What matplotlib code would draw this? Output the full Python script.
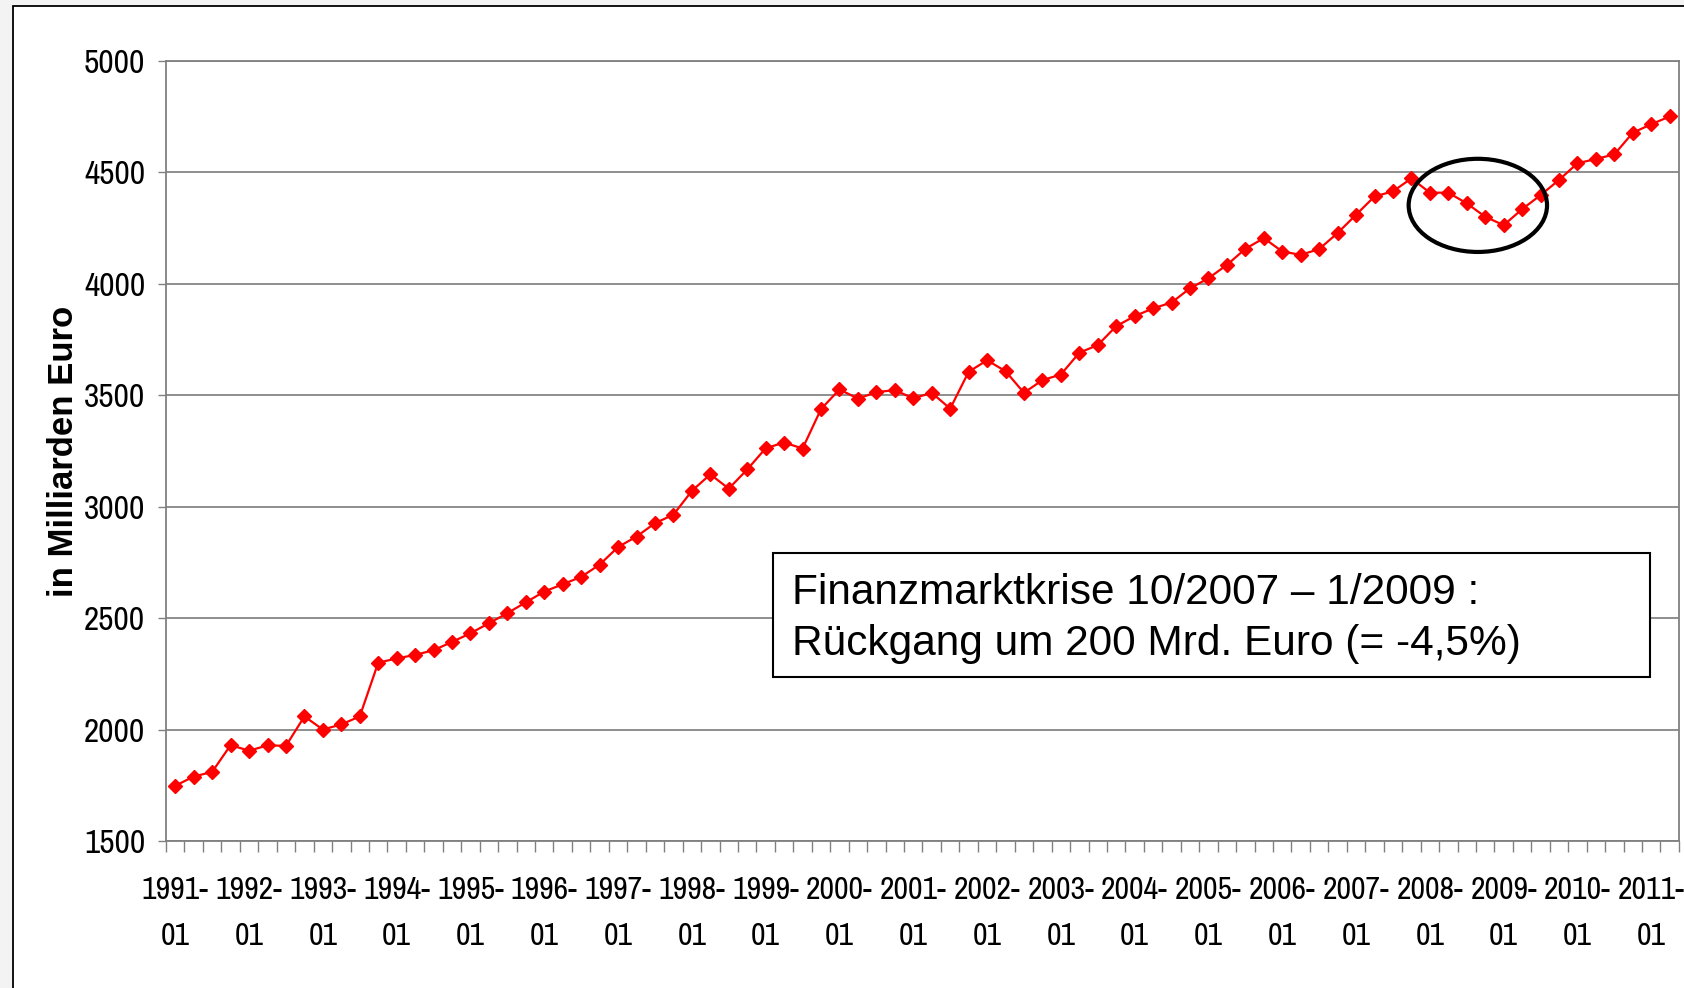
import matplotlib.pyplot as plt
from matplotlib.patches import Rectangle, Ellipse

# Geldvermoegen, quartalsweise 1991-Q1 bis 2011-Q2 (Mrd. Euro)
werte = [1748, 1789, 1810, 1930, 1905, 1929, 1927, 2059,
         2000, 2023, 2059, 2300, 2319, 2335, 2356, 2393,
         2432, 2477, 2522, 2571, 2619, 2652, 2685, 2740,
         2819, 2866, 2926, 2964, 3071, 3145, 3081, 3167,
         3262, 3288, 3261, 3438, 3526, 3485, 3514, 3523,
         3486, 3511, 3440, 3605, 3657, 3608, 3511, 3568,
         3593, 3691, 3725, 3810, 3855, 3890, 3916, 3980,
         4025, 4085, 4157, 4205, 4145, 4130, 4156, 4228,
         4310, 4392, 4415, 4473, 4409, 4409, 4361, 4301,
         4263, 4335, 4398, 4466, 4541, 4560, 4581, 4678,
         4716, 4751]
jahre = list(range(1991, 2012))
y_ticks = [1500, 2000, 2500, 3000, 3500, 4000, 4500, 5000]

schmal = ["Archivo Narrow", "Liberation Sans Narrow", "Liberation Sans"]
normal = ["Liberation Sans", "DejaVu Sans"]

fig = plt.figure(figsize=(16.84, 9.88), dpi=100, facecolor="#f3f3f3")

# weisser Rahmen um das Diagramm
fig.patches.append(Rectangle((13 / 1684, -0.1), 1.2, 1.1 - 6 / 988,
                             transform=fig.transFigure, facecolor="white",
                             edgecolor="black", linewidth=1.3, zorder=-5))

ax = fig.add_axes([0.0986, 0.1488, 0.8984, 0.7895])
ax.set_facecolor("white")

x = list(range(len(werte)))
ax.plot(x, werte, color="#ff0000", linewidth=1.6, marker="D",
        markersize=7.3, markeredgecolor="#ff0000", zorder=4)

ax.set_xlim(-0.5, len(werte) - 0.5)
ax.set_ylim(1500, 5000)

ax.set_yticks(y_ticks)
ax.set_yticklabels([str(v) for v in y_ticks], family=schmal, fontsize=24)
ax.tick_params(axis="y", length=6, width=1, color="#808080", pad=9)
ax.yaxis.grid(True, color="#707070", linewidth=1.1)
ax.set_axisbelow(True)

# Jahresbeschriftung an jedem 4. Quartal, Striche an allen Kategoriegrenzen
ax.set_xticks([4 * i for i in range(len(jahre))])
ax.set_xticklabels([f"{j}-\n01" for j in jahre], family=schmal, fontsize=23,
                   linespacing=1.78)
ax.tick_params(axis="x", which="major", length=0, pad=25)
ax.set_xticks([i - 0.5 for i in range(len(werte) + 1)], minor=True)
ax.tick_params(axis="x", which="minor", length=8, width=1, color="#808080")

for s in ax.spines.values():
    s.set_color("#808080")
    s.set_linewidth(1.3)

ax.set_ylabel("in Milliarden Euro", family=normal, fontsize=25,
              fontweight="bold")
ax.yaxis.set_label_coords(-0.057, 0.5)

# Markierung der Finanzmarktkrise
ax.add_patch(Ellipse((70.6, 4352), 7.5, 418, fill=False,
                     edgecolor="black", linewidth=3, zorder=5))

ax.add_patch(Rectangle((0.401, 0.210), 0.580, 0.159, transform=ax.transAxes,
                       facecolor="white", edgecolor="black",
                       linewidth=1.5, zorder=3))
ax.text(0.414, 0.3038, "Finanzmarktkrise 10/2007 \u2013 1/2009 :",
        transform=ax.transAxes, family=normal, fontsize=30.5,
        va="baseline", zorder=6)
ax.text(0.414, 0.2385, "R\u00fcckgang um 200 Mrd. Euro (= -4,5%)",
        transform=ax.transAxes, family=normal, fontsize=30.5,
        va="baseline", zorder=6)

fig.savefig("out.png", dpi=100, facecolor=fig.get_facecolor())
